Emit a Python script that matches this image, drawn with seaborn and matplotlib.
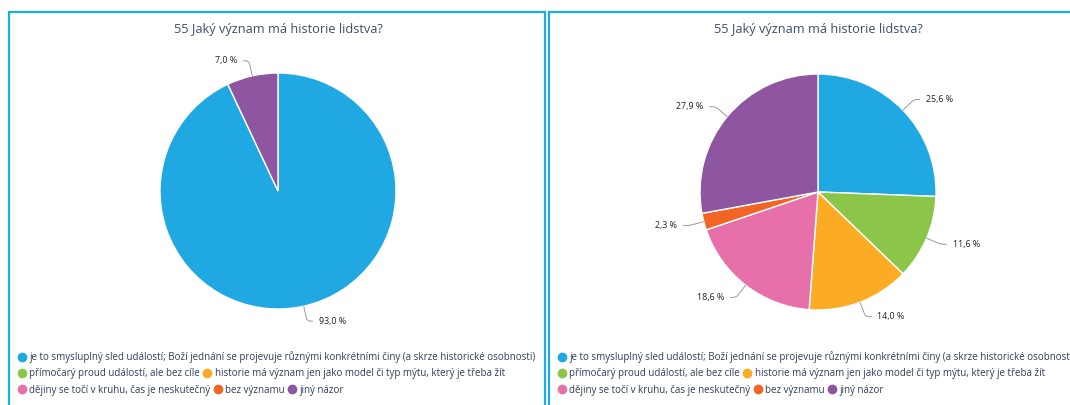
import numpy as np
import matplotlib
matplotlib.use("Agg")
import matplotlib.pyplot as plt
import seaborn as sns
from matplotlib.lines import Line2D
from matplotlib.patches import Rectangle

# --- data ---
title = "55 Jaký význam má historie lidstva?"
categories = [
    "je to smysluplný sled událostí; Boží jednání se projevuje různými konkrétními činy (a skrze historické osobnosti)",
    "přímočarý proud událostí, ale bez cíle",
    "historie má význam jen jako model či typ mýtu, který je třeba žít",
    "dějiny se točí v kruhu, čas je neskutečný",
    "bez významu",
    "jiný názor",
]
left_values = [93.0, 0.0, 0.0, 0.0, 0.0, 7.0]
right_values = [25.6, 11.6, 14.0, 18.6, 2.3, 27.9]
legend_rows = [[0], [1, 2], [3, 4, 5]]

palette = sns.color_palette(["#1fa8e1", "#8bc64a", "#fcab25", "#e76faa", "#f26524", "#8e55a0"])

sns.set_theme(style="white")
plt.rcParams["font.family"] = ["Open Sans", "DejaVu Sans"]

W, H = 1070, 405
fig = plt.figure(figsize=(W / 100, H / 100), dpi=100)

BORDER = "#1eaae7"
TITLE_C = "#3d4f6b"
LEG_C = "#2f3d5c"
R = 118  # pie radius in px
SPAN = 1.6


def fx(px):
    return px / W


def fy(py):
    return 1 - py / H


def draw_panel(x0, x1, cx, cy, values):
    fig.patches.append(Rectangle((fx(x0), fy(H + 20)), fx(x1 - x0), (H + 8) / H,
                                 transform=fig.transFigure, fill=False,
                                 edgecolor=BORDER, lw=1.6, clip_on=False))
    fig.text(fx(cx), fy(30), title, ha="center", va="center",
             fontsize=9.2, color=TITLE_C)

    half = SPAN * R
    ax = fig.add_axes([fx(cx - half), fy(cy + half), 2 * half / W, 2 * half / H])
    idx = [i for i, v in enumerate(values) if v > 0]
    vals = [values[i] for i in idx]
    cols = [palette[i] for i in idx]
    ax.pie(vals, colors=cols, startangle=90, counterclock=False, radius=1,
           wedgeprops=dict(edgecolor="white", linewidth=1.0))
    ax.set_xlim(-SPAN, SPAN)
    ax.set_ylim(-SPAN, SPAN)
    ax.set_aspect("equal")
    ax.axis("off")

    # data labels with bent connectors
    total = sum(vals)
    cum = 0.0
    for v in vals:
        theta = np.deg2rad(90 - 360 * (cum + v / 2) / total)
        cum += v
        c, s = np.cos(theta), np.sin(theta)
        side = 1 if c >= 0 else -1
        kx, ky = 1.13 * c, 1.13 * s
        ax.annotate(f"{v:.1f} %".replace(".", ","), xy=(c, s),
                    xytext=(kx + side * 0.1, ky),
                    ha="left" if side > 0 else "right", va="center",
                    fontsize=6.4, color="#222222", annotation_clip=False,
                    arrowprops=dict(arrowstyle="-", color="#9a9a9a", lw=0.7,
                                    shrinkA=2, shrinkB=0,
                                    connectionstyle=f"angle,angleA=0,angleB={np.rad2deg(theta)},rad=3"))

    # legend, flowing rows
    leg_x = x0 + 9
    for r, row in enumerate(legend_rows):
        handles = [Line2D([], [], marker="o", linestyle="", markersize=6,
                          color=palette[i]) for i in row]
        labels = [categories[i] for i in row]
        leg = fig.legend(handles, labels, loc="center left",
                         bbox_to_anchor=(fx(leg_x), fy(357 + r * 16.5)),
                         ncol=len(row), frameon=False, fontsize=7.0,
                         borderpad=0, borderaxespad=0, handlelength=0.8,
                         handletextpad=0.35, columnspacing=0.35)
        for t in leg.get_texts():
            t.set_color(LEG_C)


draw_panel(9, 545, 278, 191, left_values)
draw_panel(549, 1090, 818, 192, right_values)

fig.savefig("out.png", dpi=100)
